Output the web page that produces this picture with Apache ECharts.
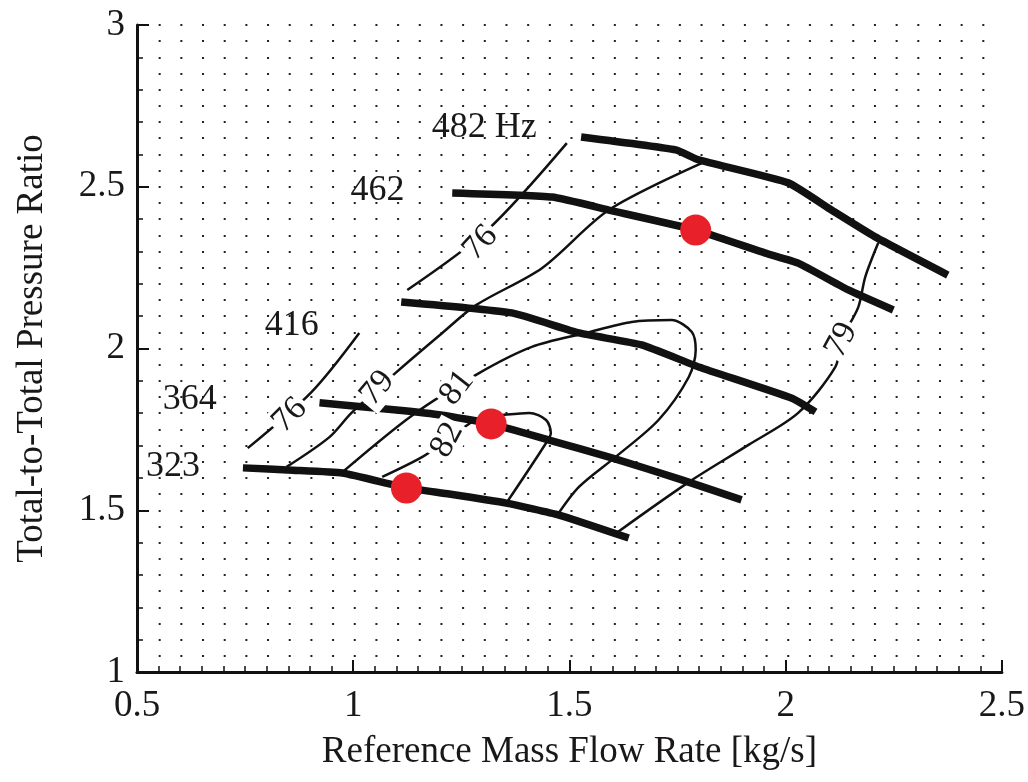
<!DOCTYPE html>
<html>
<head>
<meta charset="utf-8">
<script src="https://cdn.jsdelivr.net/npm/echarts@6/dist/echarts.min.js"></script>
<style>
html,body{margin:0;padding:0;background:#fff;}
#chart{width:1028px;height:782px;}
</style>
</head>
<body>
<div id="chart"></div>
<script>
// ---- data ----
const xTicks = [0.5, 1, 1.5, 2, 2.5];
const yTicks = [1, 1.5, 2, 2.5, 3];

const speedNames = ['482 Hz', '462', '416', '364', '323'];
const speedLabelAt = [[1.303, 2.682], [1.056, 2.487], [0.858, 2.070], [0.622, 1.841], [0.583, 1.634]];

const speed482 = [[1.527, 2.654], [1.746, 2.614], [1.799, 2.583], [2.006, 2.512], [2.106, 2.428], [2.207, 2.345], [2.375, 2.227]];
const speed462 = [[1.229, 2.481], [1.460, 2.468], [1.591, 2.428], [1.792, 2.366], [1.953, 2.295], [2.029, 2.264], [2.145, 2.181], [2.249, 2.119]];
const speed416 = [[1.111, 2.144], [1.367, 2.110], [1.522, 2.048], [1.667, 2.011], [1.799, 1.943], [2.013, 1.847], [2.069, 1.804]];
const speed364 = [[0.922, 1.832], [1.100, 1.810], [1.206, 1.794], [1.319, 1.767], [1.453, 1.717], [1.598, 1.662], [1.760, 1.594], [1.898, 1.532]];
const speed323 = [[0.745, 1.631], [0.860, 1.624], [0.975, 1.615], [1.123, 1.569], [1.222, 1.550], [1.354, 1.522], [1.476, 1.485], [1.637, 1.414]];

const eff76a = [[0.756, 1.692], [0.904, 1.866], [1.014, 2.048]];
const eff76b = [[1.125, 2.181], [1.310, 2.366], [1.494, 2.635]];
const eff79L = [[0.846, 1.634], [0.945, 1.726], [0.996, 1.801], [1.100, 1.927], [1.206, 2.048], [1.284, 2.134], [1.437, 2.249], [1.591, 2.428], [1.806, 2.573]];
const eff81 = [[0.975, 1.618], [1.137, 1.794], [1.291, 1.924], [1.413, 2.005], [1.538, 2.048], [1.644, 2.082], [1.736, 2.088], [1.783, 2.051], [1.792, 1.995], [1.776, 1.912], [1.706, 1.779], [1.607, 1.665], [1.522, 1.572], [1.469, 1.479]];
const eff82 = [[1.067, 1.603], [1.160, 1.665], [1.217, 1.717], [1.290, 1.785], [1.344, 1.794], [1.407, 1.801], [1.446, 1.779], [1.457, 1.739], [1.446, 1.708], [1.354, 1.522]];
const eff79R = [[1.612, 1.433], [1.776, 1.587], [1.914, 1.702], [2.029, 1.801], [2.115, 1.943], [2.129, 2.026], [2.168, 2.128], [2.184, 2.221], [2.214, 2.326]];

const effNames = ['76', '76', '79', '81', '82', '79'];
const effLabelAt = [[1.294, 2.326], [0.853, 1.794], [1.056, 1.878], [1.240, 1.878], [1.217, 1.717], [2.129, 2.026]];

const designPoints = [[1.792, 2.366], [1.319, 1.767], [1.123, 1.569]];

// ---- styling / chart ----
const FONT = '"Liberation Serif", "DejaVu Serif", serif';
const TXT = '#1a1718';
const effRotate = [47, 45, 50, 52, 62, 62];

const speedLines = [speed482, speed462, speed416, speed364, speed323].map(d => ({
  type: 'line', data: d, symbol: 'none', smooth: 0.15, z: 4,
  lineStyle: { color: '#111', width: 7.5, cap: 'butt' }, silent: true
}));
const effLines = [eff76a, eff76b, eff79L, eff81, eff82, eff79R].map(d => ({
  type: 'line', data: d, symbol: 'none', smooth: 0.3, z: 3,
  lineStyle: { color: '#111', width: 2.5 }, silent: true
}));

const chart = echarts.init(document.getElementById('chart'), null, { renderer: 'canvas' });
chart.setOption({
  animation: false,
  backgroundColor: '#fff',
  grid: { left: 137, right: 24, top: 25, bottom: 110, containLabel: false },
  xAxis: {
    type: 'value', min: xTicks[0], max: xTicks[xTicks.length - 1], interval: 0.5,
    name: 'Reference Mass Flow Rate [kg/s]', nameLocation: 'middle', nameGap: 62,
    nameTextStyle: { fontFamily: FONT, fontSize: 37, color: TXT },
    axisLine: { onZero: false, lineStyle: { color: '#111', width: 3 } },
    axisTick: { inside: true, length: 12, lineStyle: { color: '#111', width: 2 } },
    minorTick: { show: true, splitNumber: 10, length: 6, lineStyle: { color: '#111', width: 1.5 } },
    axisLabel: { fontFamily: FONT, fontSize: 37, color: TXT, margin: 16,
      formatter: v => String(v) },
    splitLine: { show: false }
  },
  yAxis: [{
    type: 'value', min: yTicks[0], max: yTicks[yTicks.length - 1], interval: 0.5,
    name: 'Total-to-Total Pressure Ratio', nameLocation: 'middle', nameGap: 86,
    nameTextStyle: { fontFamily: FONT, fontSize: 37, color: TXT },
    axisLine: { onZero: false, lineStyle: { color: '#111', width: 3 } },
    axisTick: { inside: true, length: 12, lineStyle: { color: '#111', width: 2 } },
    minorTick: { show: true, splitNumber: 5, length: 6, lineStyle: { color: '#111', width: 1.5 } },
    axisLabel: { fontFamily: FONT, fontSize: 37, color: TXT, margin: 12,
      formatter: v => String(v) },
    splitLine: { show: false }
  }, {
    type: 'value', min: yTicks[0], max: yTicks[yTicks.length - 1], interval: 0.05,
    position: 'left',
    axisLine: { show: false }, axisTick: { show: false }, axisLabel: { show: false },
    splitLine: { show: true, lineStyle: { color: '#222', width: 2, type: [2, 19.675], dashOffset: 0 } }
  }],
  series: [
    ...effLines,
    ...speedLines,
    {
      type: 'scatter', z: 6, silent: true, symbolSize: 1,
      itemStyle: { color: 'rgba(255,255,255,0)', opacity: 1 },
      data: effLabelAt.map((p, i) => ({
        value: p, name: effNames[i],
        label: { show: true, position: 'inside', formatter: effNames[i], rotate: effRotate[i],
          fontFamily: FONT, fontSize: 34, color: TXT, backgroundColor: '#fff', padding: [0, 3] }
      }))
    },
    {
      type: 'scatter', z: 6, silent: true, symbolSize: 1,
      itemStyle: { color: 'rgba(255,255,255,0)', opacity: 1 },
      data: speedLabelAt.map((p, i) => ({
        value: p, name: speedNames[i],
        label: { show: true, position: 'inside', formatter: speedNames[i],
          fontFamily: FONT, fontSize: 36, color: TXT }
      }))
    },
    {
      type: 'scatter', z: 7, silent: true, symbol: 'circle', symbolSize: 31,
      itemStyle: { color: '#e8202a', opacity: 1 },
      data: designPoints
    }
  ]
});
</script>
</body>
</html>
